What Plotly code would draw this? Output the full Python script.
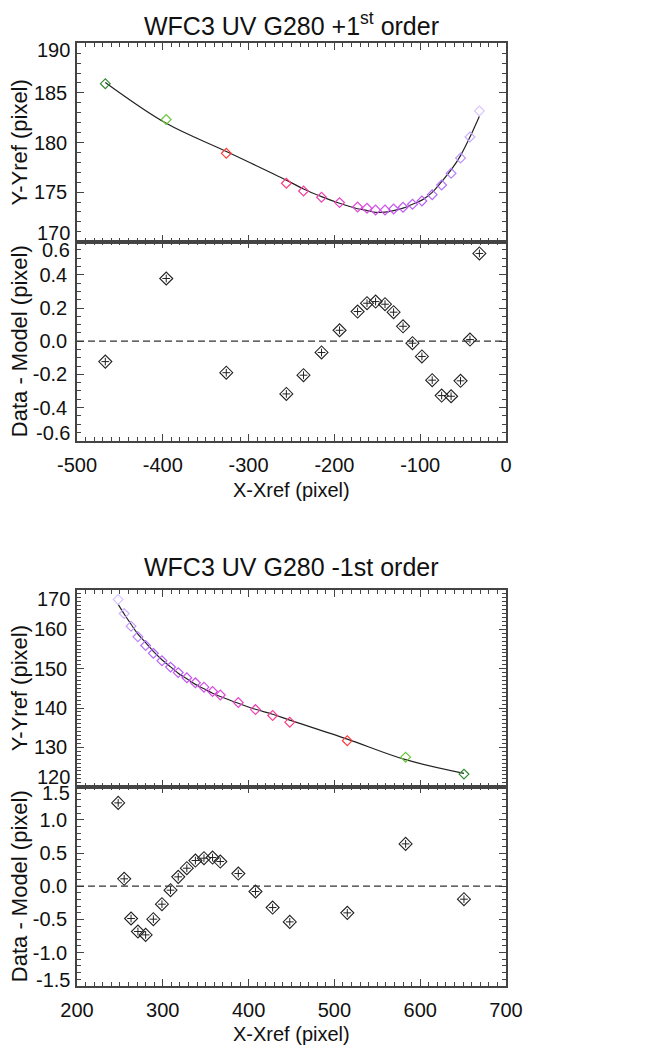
import plotly.graph_objects as go

# ---------------- Data: +1st order ----------------
x_p1 = [-467, -396, -326, -256, -236, -215, -194, -173, -162, -152, -141,
        -131, -120, -109, -98, -86, -75, -64, -53, -42, -31]
y_p1 = [185.93, 182.31, 178.91, 175.89, 175.11, 174.48, 173.94, 173.50, 173.37,
        173.20, 173.20, 173.30, 173.47, 173.77, 174.10, 174.74, 175.72, 176.90,
        178.44, 180.56, 183.18]
res_p1 = [-0.123, 0.378, -0.190, -0.318, -0.205, -0.068, 0.066, 0.179, 0.229,
          0.239, 0.223, 0.175, 0.090, -0.012, -0.092, -0.235, -0.328, -0.332,
          -0.239, 0.010, 0.529]
col_p1 = ["#2f8a2f", "#66c833", "#ff3b3b", "#ff3c80", "#f8409a", "#f042b0",
          "#e844c4", "#e048d4", "#d84ce0", "#d050e8", "#cc52ec", "#c654f0",
          "#c058f2", "#bc5cf4", "#b860f6", "#b468f8", "#b474fa", "#b884fc",
          "#c098fd", "#c8aafe", "#d8c4ff"]

# ---------------- Data: -1st order ----------------
x_m1 = [248, 255, 263, 271, 280, 289, 299, 309, 318, 328, 338, 348, 358, 367,
        388, 408, 428, 448, 515, 583, 651]
y_m1 = [167.6, 164.0, 160.8, 158.1, 155.9, 153.9, 152.0, 150.4, 149.0, 147.7,
        146.4, 145.3, 144.2, 143.3, 141.4, 139.6, 138.1, 136.4, 131.7, 127.5,
        123.2]
res_m1 = [1.256, 0.111, -0.487, -0.683, -0.734, -0.497, -0.271, -0.060, 0.141,
          0.271, 0.387, 0.422, 0.432, 0.372, 0.191, -0.080, -0.322, -0.538,
          -0.402, 0.638, -0.196]
col_m1 = ["#d8c4ff", "#ceb0fe", "#c498fd", "#bc84fc", "#b874fa", "#b468f8",
          "#b860f6", "#bc5cf4", "#c058f2", "#c654f0", "#cc52ec", "#d050e8",
          "#d84ce0", "#e048d4", "#e844c4", "#f042b0", "#f8409a", "#ff3c80",
          "#ff3b3b", "#66c833", "#2f8a2f"]

# ---------------- Axis ticks / labels ----------------
xt_p1 = [-500, -400, -300, -200, -100, 0]
xt_p1_lbl = ["-500", "-400", "-300", "-200", "-100", "0"]
yt_p1 = [170, 175, 180, 185, 190]
yt_p1_lbl = ["170", "175", "180", "185", "190"]
rt_p1 = [-0.6, -0.4, -0.2, 0.0, 0.2, 0.4, 0.6]
rt_p1_lbl = ["-0.6", "-0.4", "-0.2", "0.0", "0.2", "0.4", "0.6"]

xt_m1 = [200, 300, 400, 500, 600, 700]
xt_m1_lbl = ["200", "300", "400", "500", "600", "700"]
yt_m1 = [120, 130, 140, 150, 160, 170]
yt_m1_lbl = ["120", "130", "140", "150", "160", "170"]
rt_m1 = [-1.5, -1.0, -0.5, 0.0, 0.5, 1.0, 1.5]
rt_m1_lbl = ["-1.5", "-1.0", "-0.5", "0.0", "0.5", "1.0", "1.5"]

title_p1 = "WFC3 UV G280 +1<sup>st</sup> order"
title_m1 = "WFC3 UV G280 -1st order"
ytitle_top = "Y-Yref (pixel)"
ytitle_res = "Data - Model (pixel)"
xtitle = "X-Xref (pixel)"

# ---------------- Layout geometry ----------------
# the page body has an 8px default margin: the figure is drawn 8px in from
# the window's top-left corner, so all target pixel positions are offset.
OFF = 8
W, H = 656 - OFF, 1050 - OFF
def px_x(p):
    return (p - OFF) / W
def py(p):
    return 1 - (p - OFF) / H

XL, XR = px_x(77), px_x(506)
dom_top1 = [py(241.7), py(43.3)]
dom_res1 = [py(440.7), py(241.7)]
dom_top2 = [py(786.7), py(590.0)]
dom_res2 = [py(985.7), py(786.7)]

FONT = "Liberation Sans, Arial, Helvetica, sans-serif"
TICKF = dict(family=FONT, size=20, color="#111")
AX_COL = "#444"

fig = go.Figure()

def model(y, r):
    return [a - b for a, b in zip(y, r)]

def add_panel(x, y, r, cols, xa_top, ya_top, xa_res, ya_res):
    fig.add_trace(go.Scatter(x=x, y=model(y, r), mode="lines",
                             line=dict(color="#222", width=1.2, shape="spline"),
                             xaxis=xa_top, yaxis=ya_top, hoverinfo="skip"))
    fig.add_trace(go.Scatter(x=x, y=y, mode="markers",
                             marker=dict(symbol="diamond-open", size=7.5, color=cols,
                                         line=dict(width=1.2, color=cols)),
                             xaxis=xa_top, yaxis=ya_top))
    fig.add_trace(go.Scatter(x=x, y=r, mode="markers",
                             marker=dict(symbol="diamond-open", size=10, color="#222",
                                         line=dict(width=1.1, color="#222")),
                             xaxis=xa_res, yaxis=ya_res))
    fig.add_trace(go.Scatter(x=x, y=r, mode="markers",
                             marker=dict(symbol="cross-thin-open", size=5.5, color="#222",
                                         line=dict(width=1.0, color="#222")),
                             xaxis=xa_res, yaxis=ya_res))

add_panel(x_p1, y_p1, res_p1, col_p1, "x", "y", "x2", "y2")
add_panel(x_m1, y_m1, res_m1, col_m1, "x3", "y3", "x4", "y4")

def xax(rng, tv, tt, anchor, show, minor_dt):
    return dict(domain=[XL, XR], range=rng, anchor=anchor, tickmode="array",
                tickvals=tv, ticktext=tt, showticklabels=show, automargin=False,
                ticks="inside", ticklen=7, tickwidth=1.2, tickcolor=AX_COL,
                showline=True, linecolor=AX_COL, linewidth=1.5, mirror="ticks",
                showgrid=False, zeroline=False, tickfont=TICKF,
                ticklabelstandoff=6,
                minor=dict(dtick=minor_dt, tick0=rng[0], ticks="inside",
                           ticklen=4, tickwidth=1, tickcolor=AX_COL, showgrid=False))

def yax(dom, rng, tv, tt, anchor, minor_dt):
    # extreme labels are drawn as shifted annotations (like the original)
    return dict(domain=dom, range=rng, anchor=anchor, tickmode="array",
                tickvals=tv[1:-1], ticktext=tt[1:-1], automargin=False,
                ticks="inside", ticklen=7, tickwidth=1.2, tickcolor=AX_COL,
                showline=True, linecolor=AX_COL, linewidth=1.5, mirror="ticks",
                showgrid=False, zeroline=False, tickfont=TICKF,
                ticklabelstandoff=4,
                minor=dict(dtick=minor_dt, tick0=rng[0], ticks="inside",
                           ticklen=4, tickwidth=1, tickcolor=AX_COL, showgrid=False))

fig.update_layout(
    width=W, height=H, autosize=False,
    margin=dict(l=0, r=0, t=0, b=0),
    paper_bgcolor="white", plot_bgcolor="white",
    showlegend=False,
    font=dict(family=FONT, color="#111"),
    xaxis=xax([-500, 0], xt_p1, xt_p1_lbl, "y", False, 10),
    yaxis=yax(dom_top1, [170, 190], yt_p1, yt_p1_lbl, "x", 1),
    xaxis2=xax([-500, 0], xt_p1, xt_p1_lbl, "y2", True, 10),
    yaxis2=yax(dom_res1, [-0.6, 0.6], rt_p1, rt_p1_lbl, "x2", 0.05),
    xaxis3=xax([200, 700], xt_m1, xt_m1_lbl, "y3", False, 10),
    yaxis3=yax(dom_top2, [120, 170], yt_m1, yt_m1_lbl, "x3", 1),
    xaxis4=xax([200, 700], xt_m1, xt_m1_lbl, "y4", True, 10),
    yaxis4=yax(dom_res2, [-1.5, 1.5], rt_m1, rt_m1_lbl, "x4", 0.1),
)

# zero dashed lines in residual panels
for xr, yr in (("x2 domain", "y2"), ("x4 domain", "y4")):
    fig.add_shape(type="line", xref=xr, yref=yr, x0=0, x1=1, y0=0, y1=0,
                  line=dict(color="#333", width=1.3, dash="7px,4px"))

ann = []
def edge_labels(yref, tv, tt, top_shift, bot_shift):
    return [
        dict(x=XL, xref="paper", y=tv[-1], yref=yref, text=tt[-1], showarrow=False,
             xanchor="right", yanchor="middle", xshift=-5, yshift=-top_shift, font=TICKF),
        dict(x=XL, xref="paper", y=tv[0], yref=yref, text=tt[0], showarrow=False,
             xanchor="right", yanchor="middle", xshift=-5, yshift=bot_shift, font=TICKF),
    ]
ann += edge_labels("y", yt_p1, yt_p1_lbl, 7, 9)
ann += edge_labels("y2", rt_p1, rt_p1_lbl, 8, 8)
ann += edge_labels("y3", yt_m1, yt_m1_lbl, 9, 10)
ann += edge_labels("y4", rt_m1, rt_m1_lbl, 6, 6)

CX = (XL + XR) / 2
ann += [
    dict(x=CX, xref="paper", y=py(24), yref="paper", text=title_p1, showarrow=False,
         xanchor="center", yanchor="middle", font=dict(family=FONT, size=25, color="#111")),
    dict(x=CX, xref="paper", y=py(567), yref="paper", text=title_m1, showarrow=False,
         xanchor="center", yanchor="middle", font=dict(family=FONT, size=25, color="#111")),
    dict(x=CX, xref="paper", y=py(490), yref="paper", text=xtitle, showarrow=False,
         xanchor="center", yanchor="middle", font=dict(family=FONT, size=20, color="#111")),
    dict(x=CX, xref="paper", y=py(1034), yref="paper", text=xtitle, showarrow=False,
         xanchor="center", yanchor="middle", font=dict(family=FONT, size=20, color="#111")),
]
for dom, txt in ((dom_top1, ytitle_top), (dom_res1, ytitle_res),
                 (dom_top2, ytitle_top), (dom_res2, ytitle_res)):
    ann.append(dict(x=px_x(19), xref="paper", y=(dom[0] + dom[1]) / 2, yref="paper",
                    text=txt, showarrow=False, textangle=-90, xanchor="center",
                    yanchor="middle", font=dict(family=FONT, size=22, color="#111")))

fig.update_layout(annotations=ann)
fig.write_html("out.html")
